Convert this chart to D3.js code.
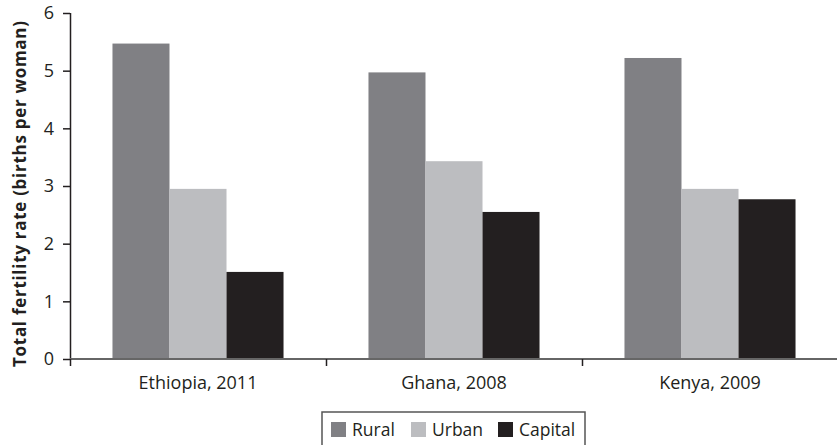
<!DOCTYPE html>
<html><head><meta charset="utf-8">
<script src="https://cdn.jsdelivr.net/npm/d3@7/dist/d3.min.js"></script>
<style>body{margin:0;background:#fff}svg{display:block;font-family:"Open Sans",sans-serif}</style>
</head><body><svg id="c" width="837" height="445"></svg>
<script>
const categories = ["Ethiopia, 2011", "Ghana, 2008", "Kenya, 2009"];
const series = ["Rural", "Urban", "Capital"];
const rural = [5.47, 4.97, 5.22];
const urban = [2.95, 3.43, 2.95];
const capital = [1.51, 2.55, 2.77];
const yTicks = [0, 1, 2, 3, 4, 5, 6];
const colors = ["#808084", "#bcbdc0", "#231f20"];
const valuesBySeries = [rural, urban, capital];

const svg = d3.select("#c");
const mLeft = 70, mRight = 838, mTop = 13, mBottom = 359;

const x0 = d3.scaleBand().domain(categories).range([mLeft, mRight]).paddingInner(0).paddingOuter(0);
const x1 = d3.scaleBand().domain(series).range([0, x0.bandwidth()]).paddingInner(0).paddingOuter(0.745);
const y = d3.scaleLinear().domain([0, 6]).range([mBottom, mTop]);
const color = d3.scaleOrdinal().domain(series).range(colors);

const data = [];
categories.forEach((c, i) => series.forEach((s, j) => data.push({c, s, v: valuesBySeries[j][i]})));

svg.append("g").selectAll("rect").data(data).join("rect")
  .attr("x", d => x0(d.c) + x1(d.s))
  .attr("width", x1.bandwidth())
  .attr("y", d => y(d.v))
  .attr("height", d => y(0) - y(d.v))
  .attr("fill", d => color(d.s));

// y axis
const ya = svg.append("g").attr("transform", `translate(${mLeft},0)`)
  .call(d3.axisLeft(y).tickValues(yTicks).tickSize(7).tickPadding(9).tickFormat(d3.format("d")));
ya.select(".domain").attr("stroke", "#231f20").attr("stroke-width", 1.5).attr("d", `M0.5,${mTop}V${mBottom}`);
ya.selectAll(".tick line").attr("stroke", "#231f20").attr("stroke-width", 1.5);
ya.selectAll(".tick text").attr("font-size", 18).attr("fill", "#231f20").attr("font-family", "Open Sans");

// x axis
const xa = svg.append("g").attr("transform", `translate(0,${mBottom})`)
  .call(d3.axisBottom(x0).tickSize(0).tickPadding(17.5));
xa.select(".domain").attr("stroke", "#666").attr("stroke-width", 2).attr("d", `M${mLeft},0H${mRight}`);
xa.selectAll(".tick text").attr("font-size", 18).attr("fill", "#231f20").attr("font-family", "Open Sans");
// band separator ticks
xa.append("g").selectAll("line").data(categories).join("line")
  .attr("x1", d => x0(d) + 0.5).attr("x2", d => x0(d) + 0.5)
  .attr("y1", 0).attr("y2", 7).attr("stroke", "#231f20").attr("stroke-width", 1.5);

// y title
svg.append("text")
  .attr("transform", `translate(26,194) rotate(-90)`)
  .attr("text-anchor", "middle").attr("font-weight", "bold").attr("font-size", 17)
  .attr("textLength", 346).attr("lengthAdjust", "spacing")
  .attr("fill", "#231f20").text("Total fertility rate (births per woman)");

// legend
const lg = svg.append("g");
lg.append("rect").attr("x", 322).attr("y", 412).attr("width", 263).attr("height", 40)
  .attr("fill", "none").attr("stroke", "#555").attr("stroke-width", 1.5);
const legX = [331, 411, 498];
series.forEach((s, i) => {
  lg.append("rect").attr("x", legX[i]).attr("y", 422).attr("width", 15).attr("height", 15).attr("fill", color(s));
  lg.append("text").attr("x", legX[i] + 21).attr("y", 436).attr("font-size", 17.5).attr("fill", "#231f20").text(s);
});
</script></body></html>
